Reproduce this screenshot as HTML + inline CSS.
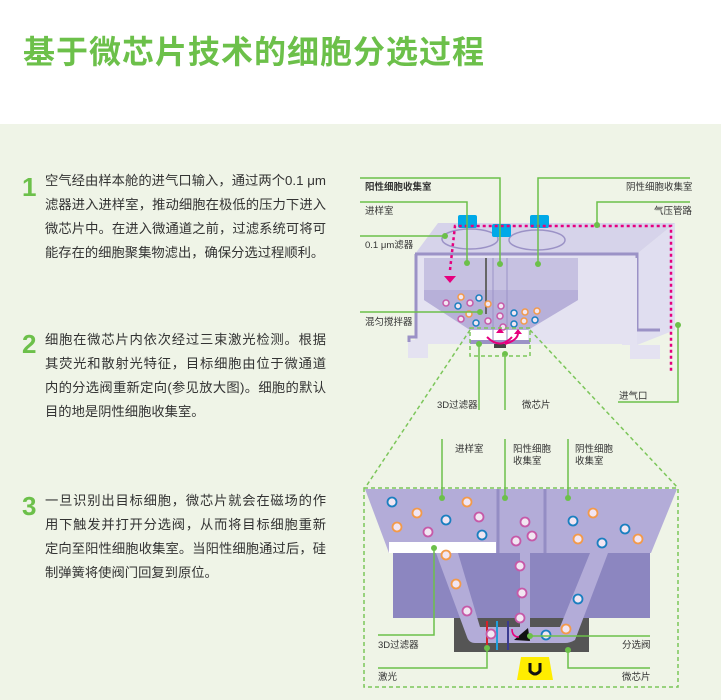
<!DOCTYPE html>
<html><head><meta charset="utf-8"><style>
body{margin:0;width:721px;height:700px;overflow:hidden;background:#fff;font-family:"Liberation Sans","Noto Sans CJK SC",sans-serif;position:relative}
.bg{position:absolute;left:0;top:124px;width:721px;height:576px;background:#eff4e7}
h1{position:absolute;left:23px;top:32px;margin:0;font-size:32px;line-height:40px;letter-spacing:1px;color:#6cc04a;font-weight:bold;white-space:nowrap}
.n{position:absolute;left:22px;font-size:26px;font-weight:bold;color:#6cc04a;line-height:30px}
.p{position:absolute;left:45px;width:281px;font-size:13.3px;color:#333}
.p div{height:24px;line-height:24px;text-align:justify;text-align-last:justify;white-space:nowrap}
.p div.l{text-align-last:left}
svg{position:absolute;left:0;top:0}
</style></head><body>
<div class="bg"></div>
<h1>基于微芯片技术的细胞分选过程</h1>
<div class="n" style="top:172px">1</div>
<div class="p" style="top:169px"><div>空气经由样本舱的进气口输入，通过两个0.1 μm</div><div>滤器进入进样室，推动细胞在极低的压力下进入</div><div>微芯片中。在进入微通道之前，过滤系统可将可</div><div class="l">能存在的细胞聚集物滤出，确保分选过程顺利。</div></div>
<div class="n" style="top:329px">2</div>
<div class="p" style="top:328px"><div>细胞在微芯片内依次经过三束激光检测。根据</div><div>其荧光和散射光特征，目标细胞由位于微通道</div><div>内的分选阀重新定向(参见放大图)。细胞的默认</div><div class="l">目的地是阴性细胞收集室。</div></div>
<div class="n" style="top:491px">3</div>
<div class="p" style="top:489px"><div>一旦识别出目标细胞，微芯片就会在磁场的作</div><div>用下触发并打开分选阀，从而将目标细胞重新</div><div>定向至阳性细胞收集室。当阳性细胞通过后，硅</div><div class="l">制弹簧将使阀门回复到原位。</div></div>

<svg width="721" height="700" font-family="Liberation Sans,Noto Sans CJK SC,sans-serif" font-size="9.5" fill="#333">
<polygon points="415,254 438,223 675,223 637,254" fill="#d6d3ea"/>
<polygon points="637,254 675,223 675,330 637,345" fill="#e0def0"/>
<rect x="415" y="254" width="222" height="90" fill="#e4e2f1"/>
<rect x="408" y="340" width="20" height="18" fill="#e4e2f1"/>
<rect x="630" y="345" width="30" height="14" fill="#e4e2f1"/>
<path d="M415,254 H637 V330 H660" fill="none" stroke="#9b92c6" stroke-width="3"/>
<path d="M416,254 V337 H409 V342" fill="none" stroke="#9b92c6" stroke-width="3"/>
<path d="M424,258 H578 V300 L528,330 H470 L424,300 Z" fill="#c6c1e1"/>
<path d="M424,290 H578 V300 L528,330 H470 L424,300 Z" fill="#b7b0d9"/>
<path d="M578,258 V300 L610,300 Q622,300 622,315 V345 H637 V258 Z" fill="#e4e2f1"/>
<rect x="470" y="330" width="58" height="12" fill="#fff"/>
<rect x="470" y="340" width="60" height="4" fill="#9b92c6"/>
<rect x="494" y="344" width="12" height="4" fill="#444"/>
<line x1="493" y1="258" x2="493" y2="340" stroke="#9b92c6"/>
<line x1="507" y1="258" x2="507" y2="340" stroke="#9b92c6"/>
<line x1="486" y1="258" x2="486" y2="314" stroke="#666" stroke-width="2"/>
<ellipse cx="470" cy="239" rx="28" ry="10" fill="none" stroke="#9b92c6" stroke-width="1.5"/>
<ellipse cx="537" cy="240" rx="28" ry="10" fill="none" stroke="#9b92c6" stroke-width="1.5"/>
<rect x="458" y="215" width="19" height="13" rx="2" fill="#00a9e8"/>
<rect x="492" y="224" width="19" height="13" rx="2" fill="#00a9e8"/>
<rect x="530" y="215" width="19" height="13" rx="2" fill="#00a9e8"/>
<path d="M450,270 L455,226 H671 V372" fill="none" stroke="#e6007e" stroke-width="2.5" stroke-dasharray="3,3"/>
<polygon points="444,276 456,276 450,283" fill="#e6007e"/>
<g stroke-width="1.5" fill="#f2e6f2">
<circle cx="446" cy="303" r="3" stroke="#c659a8"/><circle cx="461" cy="297" r="3" stroke="#f39a4a"/><circle cx="458" cy="306" r="3" stroke="#1a7fc0"/><circle cx="470" cy="303" r="3" stroke="#c659a8"/><circle cx="479" cy="298" r="3" stroke="#1a7fc0"/><circle cx="488" cy="304" r="3" stroke="#f39a4a"/><circle cx="461" cy="319" r="3" stroke="#c659a8"/><circle cx="469" cy="314" r="3" stroke="#f39a4a"/><circle cx="476" cy="323" r="3" stroke="#1a7fc0"/><circle cx="488" cy="321" r="3" stroke="#c659a8"/><circle cx="501" cy="306" r="3" stroke="#c659a8"/><circle cx="500" cy="316" r="3" stroke="#c659a8"/><circle cx="514" cy="313" r="3" stroke="#1a7fc0"/><circle cx="525" cy="312" r="3" stroke="#f39a4a"/><circle cx="537" cy="311" r="3" stroke="#f39a4a"/><circle cx="514" cy="324" r="3" stroke="#1a7fc0"/><circle cx="524" cy="321" r="3" stroke="#f39a4a"/><circle cx="535" cy="320" r="3" stroke="#1a7fc0"/><circle cx="503" cy="327" r="3" stroke="#c659a8"/>
</g>
<path d="M487,337 Q500,350 512,337 M505,344 Q518,340 518,333" fill="none" stroke="#e6007e" stroke-width="2"/>
<polygon points="496,333 504,333 500,328" fill="#e6007e"/><polygon points="514,334 522,334 518,329" fill="#e6007e"/>
<g stroke="#6cc04a" stroke-width="1.5" fill="none">
<path d="M360,178 H500 V264"/><path d="M690,178 H538 V264"/><path d="M360,202 H467 V263"/><path d="M690,202 H597 V225"/>
<path d="M360,236 H445"/><path d="M360,312 H480"/><path d="M618,402 H678 V325"/>
<path d="M479,344 V410"/><path d="M505,354 V410"/>
</g>
<g fill="#6cc04a"><circle cx="500" cy="264" r="3"/><circle cx="538" cy="264" r="3"/><circle cx="467" cy="263" r="3"/><circle cx="597" cy="225" r="3"/><circle cx="445" cy="236" r="3"/><circle cx="480" cy="312" r="3"/><circle cx="678" cy="325" r="3"/><circle cx="479" cy="344" r="3"/><circle cx="505" cy="354" r="3"/></g>
<g stroke="#7cc65a" stroke-width="1.5" fill="none" stroke-dasharray="4,3">
<rect x="470" y="328" width="60" height="28"/><path d="M470,330 L365,488"/><path d="M530,330 L678,488"/>
<rect x="364" y="488" width="314" height="199"/>
</g>
<text x="365" y="190" font-weight="bold">阳性细胞收集室</text>
<text x="626" y="190">阴性细胞收集室</text>
<text x="365" y="214">进样室</text>
<text x="654" y="214">气压管路</text>
<text x="365" y="248">0.1 μm滤器</text>
<text x="365" y="325">混匀搅拌器</text>
<text x="619" y="399">进气口</text>
<text x="437" y="408">3D过滤器</text>
<text x="522" y="408">微芯片</text>
<polygon points="365,489 677,489 651,553 389,553" fill="#b3acd8"/>
<rect x="389" y="542" width="107" height="11" fill="#fff"/>
<line x1="498" y1="489" x2="498" y2="553" stroke="#948dc4" stroke-width="3"/>
<line x1="545" y1="489" x2="545" y2="553" stroke="#948dc4" stroke-width="3"/>
<rect x="393" y="553" width="257" height="65" fill="#8c86c0"/>
<rect x="454" y="618" width="135" height="34" fill="#555"/>
<path d="M436,553 H458 L480,627 H520 V553 H530 V627 H560 L590,553 H608 L575,640 Q570,643 565,643 H475 Q469,643 467,637 Z" fill="#b3acd8"/>
<line x1="487" y1="621" x2="487" y2="650" stroke="#d2232a" stroke-width="2"/>
<line x1="497" y1="621" x2="497" y2="650" stroke="#1fa0dc" stroke-width="2"/>
<line x1="508" y1="621" x2="508" y2="650" stroke="#3b3b8f" stroke-width="2"/>
<path d="M514,640 L528,628 L530,641 Z" fill="#111"/>
<path d="M512,629 Q512,637 519,637" fill="none" stroke="#e6007e" stroke-width="1.5"/>
<polygon points="521,657 549,657 553,680 517,680" fill="#ffed00"/>
<path d="M530,663 V671 Q535,677 540,671 V663" fill="none" stroke="#111" stroke-width="3"/>
<g stroke-width="1.8" fill="#f2e6f2">
<circle cx="392" cy="502" r="4.5" stroke="#1a7fc0"/><circle cx="417" cy="513" r="4.5" stroke="#f39a4a"/><circle cx="397" cy="527" r="4.5" stroke="#f39a4a"/><circle cx="428" cy="532" r="4.5" stroke="#c659a8"/><circle cx="446" cy="520" r="4.5" stroke="#1a7fc0"/><circle cx="467" cy="502" r="4.5" stroke="#f39a4a"/><circle cx="479" cy="517" r="4.5" stroke="#c659a8"/><circle cx="482" cy="535" r="4.5" stroke="#1a7fc0"/>
<circle cx="446" cy="555" r="4.5" stroke="#f39a4a"/><circle cx="456" cy="584" r="4.5" stroke="#f39a4a"/><circle cx="467" cy="611" r="4.5" stroke="#c659a8"/><circle cx="491" cy="634" r="4.5" stroke="#c659a8"/>
<circle cx="525" cy="522" r="4.5" stroke="#c659a8"/><circle cx="516" cy="541" r="4.5" stroke="#c659a8"/><circle cx="532" cy="536" r="4.5" stroke="#c659a8"/><circle cx="520" cy="566" r="4.5" stroke="#c659a8"/><circle cx="522" cy="593" r="4.5" stroke="#c659a8"/><circle cx="520" cy="618" r="4.5" stroke="#c659a8"/>
<circle cx="573" cy="521" r="4.5" stroke="#1a7fc0"/><circle cx="593" cy="513" r="4.5" stroke="#f39a4a"/><circle cx="578" cy="539" r="4.5" stroke="#f39a4a"/><circle cx="602" cy="543" r="4.5" stroke="#1a7fc0"/><circle cx="625" cy="529" r="4.5" stroke="#1a7fc0"/><circle cx="638" cy="539" r="4.5" stroke="#f39a4a"/>
<circle cx="578" cy="599" r="4.5" stroke="#1a7fc0"/><circle cx="566" cy="629" r="4.5" stroke="#f39a4a"/><circle cx="546" cy="635" r="4.5" stroke="#1a7fc0"/>
</g>
<g stroke="#6cc04a" stroke-width="1.5" fill="none">
<path d="M442,439 V498"/><path d="M505,439 V498"/><path d="M568,439 V498"/>
<path d="M434,548 V635 H378"/><path d="M487,648 V668 H378"/><path d="M530,636 H650"/><path d="M568,650 V668 H650"/>
</g>
<g fill="#6cc04a"><circle cx="442" cy="498" r="3"/><circle cx="505" cy="498" r="3"/><circle cx="568" cy="498" r="3"/><circle cx="434" cy="548" r="3"/><circle cx="487" cy="648" r="3"/><circle cx="530" cy="636" r="3"/><circle cx="568" cy="650" r="3"/></g>
<text x="455" y="452">进样室</text>
<text x="513" y="452">阳性细胞</text><text x="513" y="464">收集室</text>
<text x="575" y="452">阴性细胞</text><text x="575" y="464">收集室</text>
<text x="378" y="648">3D过滤器</text>
<text x="378" y="680">激光</text>
<text x="622" y="648">分选阀</text>
<text x="622" y="680">微芯片</text>
</svg>
</body></html>
